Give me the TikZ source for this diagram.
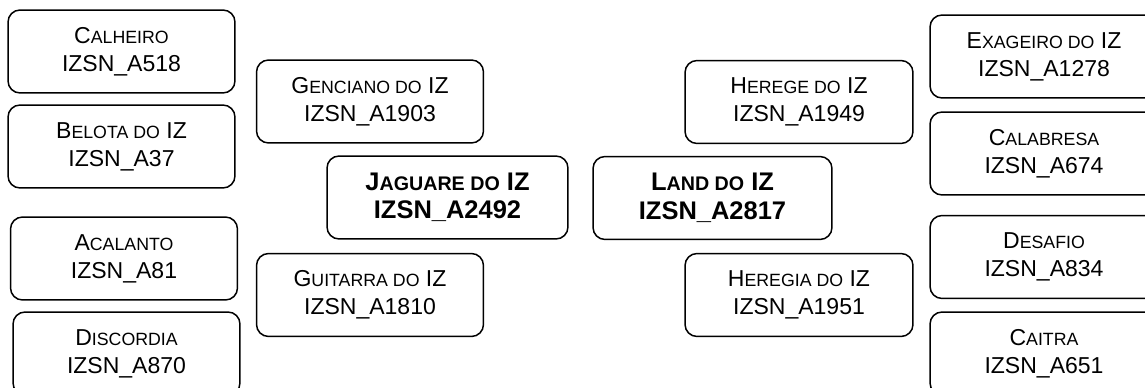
\documentclass[tikz,border=0pt]{standalone}
\usepackage{fontspec}
\setmainfont{Liberation Sans}
\usepackage{tikz}
\usetikzlibrary{positioning}
\newcommand{\smc}[1]{{\fontsize{10.1}{12}\selectfont #1}}
\newcommand{\smcb}[1]{{\fontsize{11.2}{13}\selectfont #1}}
\tikzset{nodb/.style={draw=black,line width=.85pt,rounded corners=.24cm,align=center,
  minimum width=4.54cm,minimum height=1.66cm,inner sep=1pt,font=\fontsize{13.1}{15.9}\selectfont}}
\tikzset{nodc/.style={nodb,font=\fontsize{14.5}{16.2}\selectfont\bfseries}}

\begin{document}
\begin{tikzpicture}[x=.02cm,y=-.02cm]
\clip (0,0) rectangle (1145,388);
\node [nodb] at (121.5,51.5) (calheiro) {C\smc{ALHEIRO}\\IZSN\_A518};
\node [nodb] at (121.5,146.5) (belota) {B\smc{ELOTA DO} IZ\\IZSN\_A37};
\node [nodb] at (124,258.5) (acalanto) {A\smc{CALANTO}\\IZSN\_A81};
\node [nodb] at (126.5,353.5) (discordia) {D\smc{ISCORDIA}\\IZSN\_A870};

\node [nodb] at (370,101.5) (genciano) {G\smc{ENCIANO DO} IZ\\IZSN\_A1903};
\node [nodb] at (370,295) (guitarra) {G\smc{UITARRA DO} IZ\\IZSN\_A1810};
\node [nodc,minimum width=4.82cm] at (447.5,197.5) (jaguare) {J\smcb{AGUARE DO} IZ\\IZSN\_A2492};

\node [nodc,minimum width=4.78cm] at (712.5,198) (land) {L\smcb{AND DO} IZ\\IZSN\_A2817};
\node [nodb,minimum width=4.56cm] at (799,102) (herege) {H\smc{EREGE DO} IZ\\IZSN\_A1949};
\node [nodb,minimum width=4.56cm] at (799,295) (heregia) {H\smc{EREGIA DO} IZ\\IZSN\_A1951};

\node [nodb,minimum width=4.56cm] at (1044,56.5) (exageiro) {E\smc{XAGEIRO DO} IZ\\IZSN\_A1278};
\node [nodb,minimum width=4.56cm] at (1044,153.5) (calabresa) {C\smc{ALABRESA}\\IZSN\_A674};
\node [nodb,minimum width=4.56cm] at (1044,257) (desafio) {D\smc{ESAFIO}\\IZSN\_A834};
\node [nodb,minimum width=4.56cm] at (1044,353.5) (caitra) {C\smc{AITRA}\\IZSN\_A651};
\end{tikzpicture}
\end{document}
